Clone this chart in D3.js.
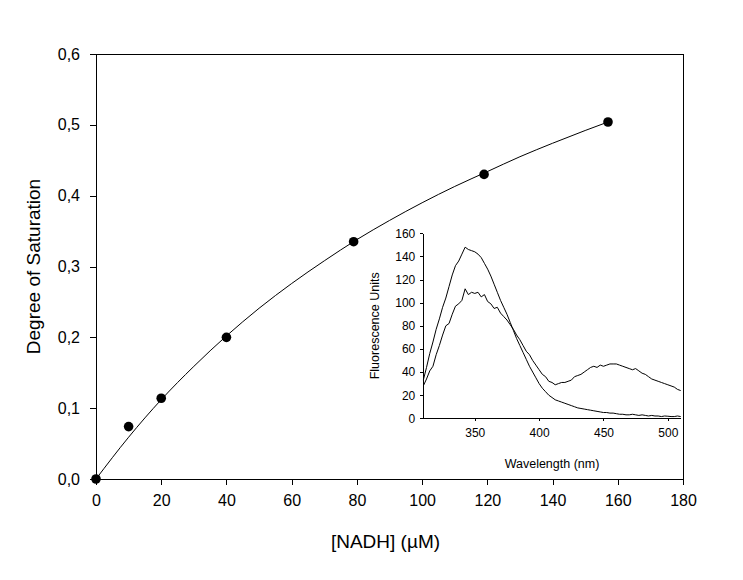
<!DOCTYPE html>
<html>
<head>
<meta charset="utf-8">
<script src="https://cdn.jsdelivr.net/npm/d3@7/dist/d3.min.js"></script>
<style>
  body { margin: 0; background: #fff; }
  svg { display: block; font-family: "Liberation Sans", Arial, sans-serif; }
  .axis path, .axis line { stroke: #000; shape-rendering: crispEdges; }
  .axis text { fill: #000; }
</style>
</head>
<body>
<svg id="chart" width="743" height="580"></svg>
<script>
// binding data
const nadh = [0, 10, 20, 40, 79, 119, 157];
const saturation = [0, 0.074, 0.114, 0.2, 0.335, 0.43, 0.504];

// fitted curve as drawn in the figure
const fitX = [0, 10, 20, 30, 40, 50, 60, 70, 80, 90, 100, 110, 120, 130, 140, 150, 157];
const fitY = [0, 0.059, 0.112, 0.159, 0.202, 0.241, 0.276, 0.308, 0.338, 0.365, 0.39, 0.413, 0.434, 0.455, 0.474, 0.492, 0.504];

const yTicksMain = [0, 0.1, 0.2, 0.3, 0.4, 0.5, 0.6];
const xTicksMain = [0, 20, 40, 60, 80, 100, 120, 140, 160, 180];

// inset: fluorescence spectra (2.5 nm steps)
const wavelength = [
  310, 312.5, 315, 317.5, 320, 322.5, 325, 327.5, 330, 332.5, 335, 337.5, 340, 342.5, 345, 347.5,
  350, 352.5, 355, 357.5, 360, 362.5, 365, 367.5, 370, 372.5, 375, 377.5, 380, 382.5, 385, 387.5,
  390, 392.5, 395, 397.5, 400, 402.5, 405, 407.5, 410, 412.5, 415, 417.5, 420, 422.5, 425, 427.5,
  430, 432.5, 435, 437.5, 440, 442.5, 445, 447.5, 450, 452.5, 455, 457.5, 460, 462.5, 465, 467.5,
  470, 472.5, 475, 477.5, 480, 482.5, 485, 487.5, 490, 492.5, 495, 497.5, 500, 502.5, 505, 507.5, 510];
const spectrumHigh = [
  33, 44, 56, 66, 77, 86, 96, 104, 114, 124, 132, 136, 142, 148, 146, 145,
  144, 142, 139, 134, 129, 123, 116, 109, 102, 96, 90, 83, 76, 69, 63, 57,
  51, 45, 40, 35, 30, 26, 23, 20, 18, 16, 15, 14, 13, 12, 11, 10,
  9, 8.5, 8, 7.5, 7, 6.5, 6, 5.5, 5, 5, 4.5, 4.5, 4, 3.5, 3.5, 3,
  3, 3.5, 3, 2.5, 3, 2.5, 2, 2.5, 2, 2, 1.5, 2, 1.8, 1.5, 1.5, 2, 1.5];
const spectrumLow = [
  28, 34, 41, 45, 55, 63, 72, 80, 82, 90, 97, 99, 102, 112, 107, 109,
  108, 109, 105, 107, 101, 99, 95, 96, 91, 88, 85, 81, 77, 72, 68, 63,
  58, 55, 50, 46, 42, 38, 36, 32, 31, 29, 30, 31, 31, 32, 33, 36,
  37, 38, 40, 42, 44, 45, 44, 46, 45, 46, 47, 47, 47, 46, 45, 44,
  43, 42, 43, 41, 39, 38, 36, 34, 33, 32, 31, 30, 29, 28, 27, 25, 24];

const yTicksInset = [0, 20, 40, 60, 80, 100, 120, 140, 160];
const xTicksInset = [350, 400, 450, 500];

const svg = d3.select("#chart");
const comma = d => d3.format(".1f")(d).replace(".", ",");

// main plot
const x = d3.scaleLinear().domain([0, 180]).range([96, 683]);
const y = d3.scaleLinear().domain([0, 0.6]).range([479, 54]);

svg.append("rect")
  .attr("x", x(0)).attr("y", y(0.6))
  .attr("width", x(180) - x(0)).attr("height", y(0) - y(0.6))
  .attr("fill", "none").attr("stroke", "#000").attr("shape-rendering", "crispEdges");

svg.append("g").attr("class", "axis")
  .attr("transform", `translate(0,${y(0)})`)
  .call(d3.axisBottom(x).tickValues(xTicksMain).tickSize(6).tickSizeOuter(0).tickPadding(10))
  .call(g => g.selectAll("text").attr("font-size", 16));

svg.append("g").attr("class", "axis")
  .attr("transform", `translate(${x(0)},0)`)
  .call(d3.axisLeft(y).tickValues(yTicksMain).tickFormat(comma).tickSize(6).tickSizeOuter(0).tickPadding(10))
  .call(g => g.selectAll("text").attr("font-size", 16));

svg.selectAll(".axis .domain").remove();

const fitLine = d3.line().x(d => x(d[0])).y(d => y(d[1])).curve(d3.curveMonotoneX);
svg.append("path")
  .datum(d3.zip(fitX, fitY))
  .attr("d", fitLine)
  .attr("fill", "none").attr("stroke", "#000").attr("stroke-width", 1);

svg.selectAll("circle.pt")
  .data(d3.zip(nadh, saturation))
  .join("circle")
  .attr("class", "pt")
  .attr("cx", d => x(d[0])).attr("cy", d => y(d[1]))
  .attr("r", 4.8).attr("fill", "#000");

svg.append("text")
  .attr("x", (x(0) + x(180)) / 2 - 4).attr("y", 548)
  .attr("text-anchor", "middle").attr("font-size", 19)
  .text("[NADH] (µM)");

svg.append("text")
  .attr("transform", `translate(40,${(y(0) + y(0.6)) / 2}) rotate(-90)`)
  .attr("text-anchor", "middle").attr("font-size", 19)
  .text("Degree of Saturation");

// inset
const ix = d3.scaleLinear().domain([310, 510]).range([423.3, 680.7]);
const iy = d3.scaleLinear().domain([0, 160]).range([418.3, 233.3]);

svg.append("g").attr("class", "axis")
  .attr("transform", `translate(0,${iy(0)})`)
  .call(d3.axisBottom(ix).tickValues(xTicksInset).tickSize(3).tickSizeOuter(0).tickPadding(7))
  .call(g => g.selectAll("text").attr("font-size", 12));

svg.append("g").attr("class", "axis")
  .attr("transform", `translate(${ix(310)},0)`)
  .call(d3.axisLeft(iy).tickValues(yTicksInset).tickSize(3).tickSizeOuter(0).tickPadding(5))
  .call(g => g.selectAll("text").attr("font-size", 12));

const specLine = series => d3.line()
  .x((d, i) => ix(wavelength[i]))
  .y(d => iy(d))(series);

[spectrumHigh, spectrumLow].forEach(s => {
  svg.append("path")
    .attr("d", specLine(s))
    .attr("fill", "none").attr("stroke", "#000").attr("stroke-width", 1);
});

svg.append("text")
  .attr("x", 552).attr("y", 468)
  .attr("text-anchor", "middle").attr("font-size", 12.5)
  .text("Wavelength (nm)");

svg.append("text")
  .attr("transform", `translate(379,${(iy(0) + iy(160)) / 2}) rotate(-90)`)
  .attr("text-anchor", "middle").attr("font-size", 12.5)
  .text("Fluorescence Units");
</script>
</body>
</html>
